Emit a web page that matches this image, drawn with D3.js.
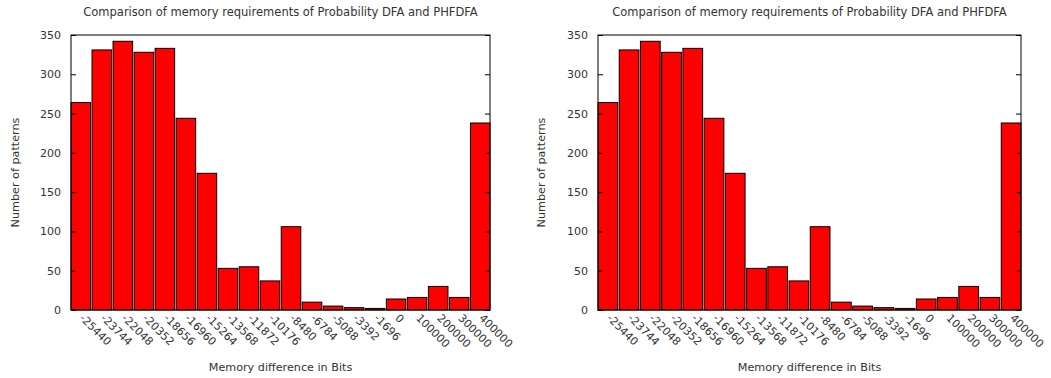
<!DOCTYPE html>
<html>
<head>
<meta charset="utf-8">
<script src="https://cdn.jsdelivr.net/npm/d3@7"></script>
<style>
  html, body { margin: 0; padding: 0; background: #fff; }
  svg { display: block; }
  text { font-family: "DejaVu Sans", sans-serif; fill: #333; }
</style>
</head>
<body>
<svg id="chart" width="1051" height="378"></svg>
<script>
// Histogram of memory difference (bits) between Probability DFA and PHFDFA
const categories = ["-25440", "-23744", "-22048", "-20352", "-18656", "-16960", "-15264",
  "-13568", "-11872", "-10176", "-8480", "-6784", "-5088", "-3392", "-1696", "0",
  "100000", "200000", "300000", "400000"];
const patternCounts = [264, 331, 342, 328, 333, 244, 174, 53, 55, 37, 106, 10, 5, 3, 2, 14, 16, 30, 16, 238];
const yTicks = [0, 50, 100, 150, 200, 250, 300, 350];

const titleText = "Comparison of memory requirements of Probability DFA and PHFDFA";
const xLabel = "Memory difference in Bits";
const yLabel = "Number of patterns";

const svg = d3.select("#chart");

// Two identical panels side by side
const panels = [
  { left: 71, right: 490, ylab: 15 },
  { left: 598, right: 1021, ylab: 541 }
];
const plotTop = 35, plotBottom = 310;

panels.forEach(p => {
  const g = svg.append("g");

  const x = d3.scaleBand()
    .domain(categories)
    .range([p.left, p.right])
    .paddingInner(0.07)
    .paddingOuter(0);

  const y = d3.scaleLinear().domain([0, 350]).range([plotBottom, plotTop]);

  // bars
  g.selectAll("rect.bar")
    .data(patternCounts)
    .join("rect")
    .attr("class", "bar")
    .attr("x", (d, i) => x(categories[i]))
    .attr("y", d => y(d))
    .attr("width", x.bandwidth())
    .attr("height", d => plotBottom - y(d))
    .attr("fill", "#ff0000")
    .attr("stroke", "#000")
    .attr("stroke-width", 1);

  // frame
  g.append("rect")
    .attr("x", p.left).attr("y", plotTop)
    .attr("width", p.right - p.left).attr("height", plotBottom - plotTop)
    .attr("fill", "none").attr("stroke", "#000").attr("stroke-width", 1);

  // y axis: inward ticks on both sides
  const yAxisL = d3.axisLeft(y).tickValues(yTicks).tickSize(-5).tickPadding(10);
  const ga = g.append("g").attr("transform", `translate(${p.left},0)`).call(yAxisL);
  ga.select(".domain").remove();
  ga.selectAll("text").style("font-size", "11px").style("font-family", "DejaVu Sans, sans-serif").attr("fill", "#333");
  ga.selectAll("line").attr("stroke", "#000");

  const yAxisR = d3.axisRight(y).tickValues(yTicks).tickSize(-5).tickFormat("");
  const gr = g.append("g").attr("transform", `translate(${p.right},0)`).call(yAxisR);
  gr.select(".domain").remove();
  gr.selectAll("line").attr("stroke", "#000");

  // rotated category labels
  g.selectAll("text.xtick")
    .data(categories)
    .join("text")
    .attr("class", "xtick")
    .attr("transform", d => `translate(${x(d) + x.bandwidth() / 2 + 1},${plotBottom + 6}) rotate(45)`)
    .attr("text-anchor", "start")
    .attr("dy", "0.35em")
    .style("font-size", "11px")
    .text(d => d);

  // title
  g.append("text")
    .attr("x", (p.left + p.right) / 2).attr("y", 16)
    .attr("text-anchor", "middle")
    .style("font-size", "11.5px")
    .text(titleText);

  // x label
  g.append("text")
    .attr("x", (p.left + p.right) / 2).attr("y", 371)
    .attr("text-anchor", "middle")
    .style("font-size", "11.2px")
    .text(xLabel);

  // y label
  g.append("text")
    .attr("transform", `translate(${p.ylab},${(plotTop + plotBottom) / 2}) rotate(-90)`)
    .attr("text-anchor", "middle")
    .attr("dy", "0.35em")
    .style("font-size", "11.2px")
    .text(yLabel);
});
</script>
</body>
</html>
